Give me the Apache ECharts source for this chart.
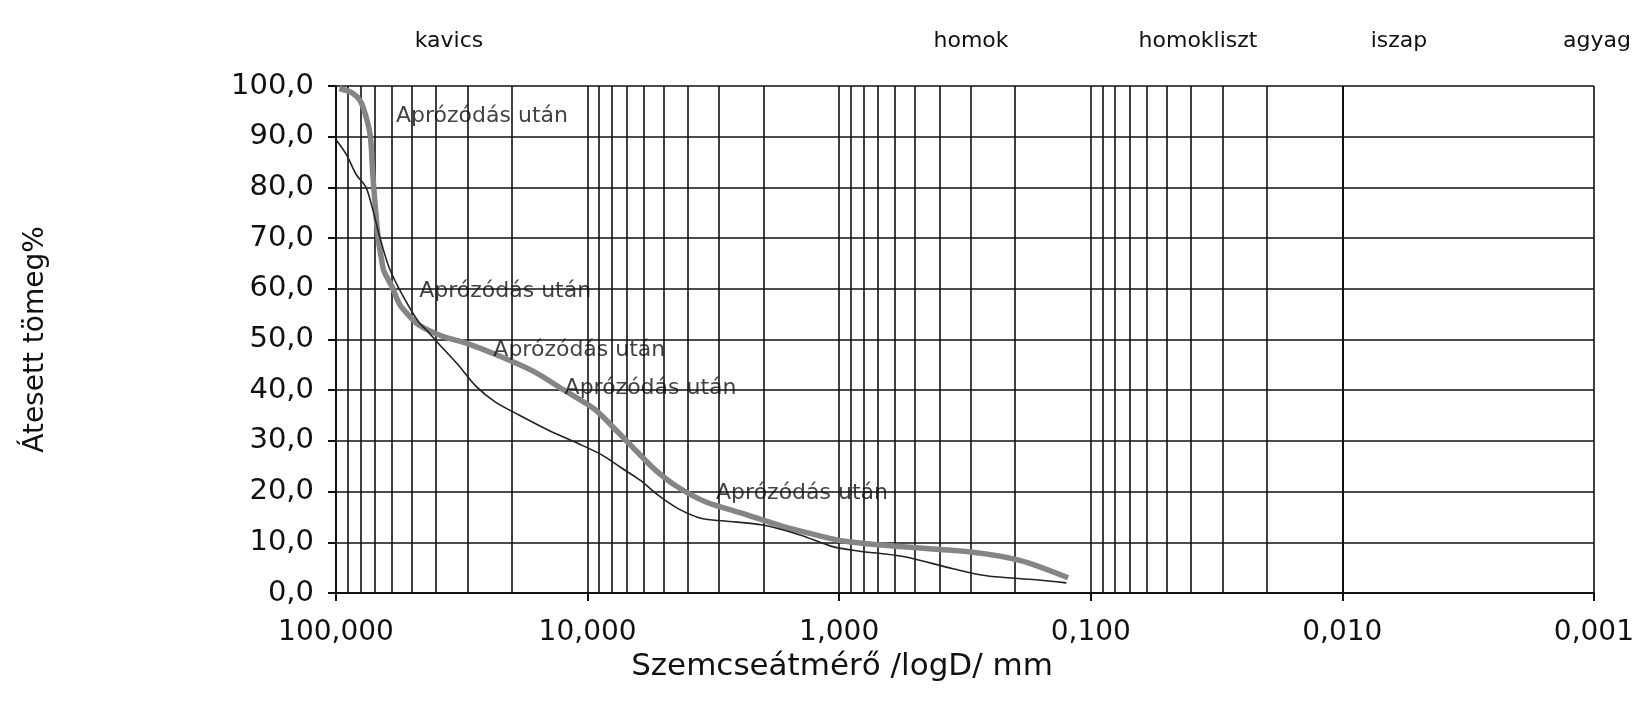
<!DOCTYPE html>
<html>
<head>
<meta charset="utf-8">
<script src="https://cdn.jsdelivr.net/npm/echarts@6/dist/echarts.min.js"></script>
<style>
html,body{margin:0;padding:0;background:#fff;}
#chart{width:1637px;height:709px;}
</style>
</head>
<body>
<div id="chart"></div>
<script>
// Grain size (mm) and passing mass % — thick grey curve
const greyD = [97, 86, 80, 76, 73, 71.5, 70, 68, 66, 64.5, 60, 56, 53, 47, 38, 30, 21.8, 16.4, 12.4, 9.4, 7.6, 6.4, 5.36, 4.35, 3.4, 2.39, 1.69, 1.27, 0.95, 0.56, 0.30, 0.19, 0.123];
const greyP = [99.5, 98.6, 97, 94, 90, 83, 77, 70, 66, 63.5, 60.5, 57, 55.5, 52.9, 50.7, 49.2, 46.5, 43.7, 40.0, 36.3, 31.8, 28.0, 24.2, 20.8, 18.0, 15.6, 13.2, 11.6, 10.2, 9.1, 8.1, 6.4, 3.0];
// thin dark curve
const thinD = [100, 91, 83, 76, 71.3, 67, 61.2, 54.2, 47, 43, 39.5, 33.1, 27.8, 23.3, 18.9, 14.3, 10.8, 8.75, 7.35, 6.17, 5.18, 4.35, 3.52, 2.85, 2.01, 1.42, 1.07, 0.84, 0.557, 0.353, 0.26, 0.165, 0.125];
const thinP = [89.4, 86.5, 82.5, 80, 75.5, 70.2, 63.9, 58.6, 53.5, 51.5, 49.4, 45.3, 40.8, 37.7, 35.2, 32.1, 29.4, 27.2, 24.7, 22.2, 19.1, 16.6, 14.7, 14.2, 13.4, 11.4, 9.2, 8.3, 7.2, 4.8, 3.4, 2.6, 2.0];
// curve annotations
const noteText = 'Aprózódás után';
const noteD = [58, 46.9, 23.8, 12.4, 3.1];
const noteP = [94, 59.5, 47.8, 40.3, 19.6];
// soil fraction names
const zoneNames = ['kavics', 'homok', 'homokliszt', 'iszap', 'agyag'];
// log grid structure
const gridDecades = [0.001, 0.01, 0.1, 1, 10];
const gridMantissas = [2, 3, 4, 5, 6, 7, 8, 9];
const yTitle = 'Átesett tömeg%';
const xTitle = 'Szemcseátmérő /logD/ mm';

const FONT = 'DejaVu Sans';
const greyData = greyD.map((d, i) => [d, greyP[i]]);
const thinData = thinD.map((d, i) => [d, thinP[i]]);
const noteData = noteD.map((d, i) => [d, noteP[i], noteText]);
const minorLines = [];
gridDecades.forEach(dec => gridMantissas.forEach(m => minorLines.push({xAxis: +(m * dec).toPrecision(3)})));

const zoneX = [449, 971, 1198, 1399, 1597];

const chart = echarts.init(document.getElementById('chart'), null, {renderer: 'canvas'});
chart.setOption({
  animation: false,
  backgroundColor: '#fff',
  grid: {left: 336, right: 39, top: 86, bottom: 116},
  xAxis: {
    type: 'log', logBase: 10, min: 0.001, max: 100, inverse: true,
    axisLine: {lineStyle: {color: '#111', width: 2}},
    axisTick: {show: true, length: 8, lineStyle: {color: '#111', width: 2}},
    axisLabel: {fontFamily: FONT, fontSize: 28, color: '#111', margin: 26,
      formatter: v => Number(v).toFixed(3).replace('.', ',')},
    splitLine: {show: true, lineStyle: {color: '#111', width: 1.6}},
    minorTick: {show: false}, minorSplitLine: {show: false}
  },
  yAxis: {
    type: 'value', min: 0, max: 100, interval: 10,
    name: yTitle, nameLocation: 'middle', nameGap: 286, nameRotate: 90,
    nameTextStyle: {fontFamily: FONT, fontSize: 28, color: '#111'},
    axisLine: {show: true, lineStyle: {color: '#111', width: 2}},
    axisTick: {show: true, length: 8, lineStyle: {color: '#111', width: 2}},
    axisLabel: {fontFamily: FONT, fontSize: 29, color: '#111', margin: 22,
      formatter: v => Number(v).toFixed(1).replace('.', ',')},
    splitLine: {show: true, lineStyle: {color: '#111', width: 1.6}}
  },
  graphic: zoneNames.map((t, i) => ({
    type: 'text', x: zoneX[i], y: 41,
    style: {text: t, fontFamily: FONT, fontSize: 22, fill: '#111', align: 'center', verticalAlign: 'middle'}
  })).concat([{
    type: 'text', x: 842, y: 667,
    style: {text: xTitle, fontFamily: FONT, fontSize: 31, fill: '#111', align: 'center', verticalAlign: 'middle'}
  }]),
  series: [
    {
      type: 'line', data: [], z: 1,
      markLine: {
        silent: true, symbol: ['none', 'none'], z: 1, animation: false,
        label: {show: false},
        lineStyle: {color: '#111', width: 1.6, type: 'solid'},
        emphasis: {disabled: true},
        data: minorLines
      }
    },
    {
      type: 'line', data: greyData, smooth: 0.3, symbol: 'none', z: 3,
      lineStyle: {color: '#858585', width: 5.5}
    },
    {
      type: 'line', data: thinData, smooth: 0.3, symbol: 'none', z: 4,
      lineStyle: {color: '#222', width: 1.6}
    },
    {
      type: 'scatter', data: noteData, symbolSize: 1, z: 6,
      itemStyle: {color: 'rgba(0,0,0,0)'},
      label: {show: true, position: 'right', distance: 0, formatter: p => p.data[2],
        fontFamily: FONT, fontSize: 22, color: '#111'}
    }
  ]
});
</script>
</body>
</html>
